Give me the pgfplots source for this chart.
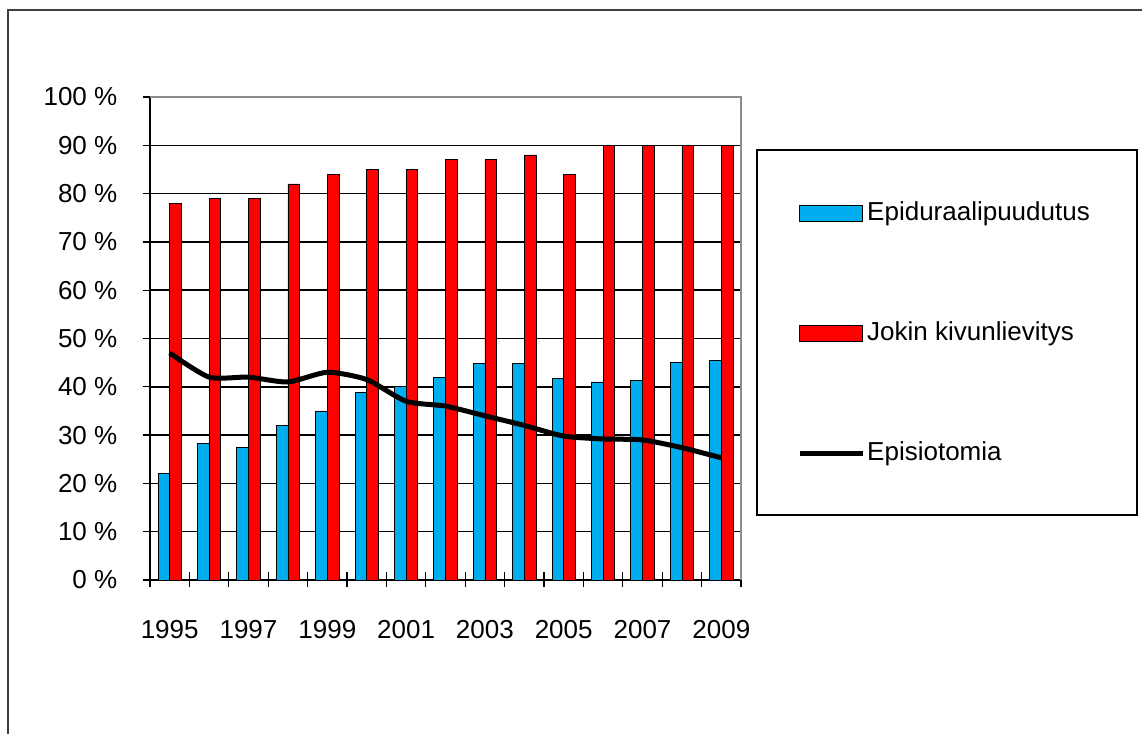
\documentclass[border=0pt]{standalone}
\usepackage{fontspec}
\setmainfont{Liberation Sans}
\usepackage{pgfplots}
\pgfplotsset{compat=1.18}
\definecolor{epiblue}{RGB}{0,174,239}
\definecolor{epired}{RGB}{255,0,0}
\newcommand{\chartfont}{\fontsize{26}{30}\selectfont}
\begin{document}
\begin{tikzpicture}[x=1pt,y=1pt]
% outer chart frame (only left and top edges are visible)
\draw[line width=2pt, black!75] (8,-5) -- (8,723) -- (1150,723);
\begin{axis}[
    at={(150pt,153pt)}, anchor=south west,
    scale only axis, width=591pt, height=483pt,
    xmin=-0.5, xmax=14.5, ymin=0, ymax=100,
    axis lines=left, axis line style={-, line width=1.5pt},
    tick pos=left, tick align=center,
    major tick length=15pt,
    every tick/.style={black, line width=1.3pt},
    xtick={-0.5,0.5,...,14.5}, xticklabels={},
    extra x ticks={0,2,...,14},
    extra x tick labels={1995,1997,1999,2001,2003,2005,2007,2009},
    extra x tick style={major tick length=0pt, grid=none,
        xticklabel style={inner sep=0pt, anchor=north, yshift=-40pt}},
    ytick={0,10,...,100},
    yticklabels={0 \%,10 \%,20 \%,30 \%,40 \%,50 \%,60 \%,70 \%,80 \%,90 \%,100 \%},
    yticklabel style={anchor=east, inner sep=0pt, xshift=-25pt},
    ymajorgrids, grid style={black, line width=1.5pt},
    tick label style={font=\chartfont},
    clip=false,
    legend style={at={(rel axis cs:1.0948,0.7909)}, anchor=north west,
        draw=none, fill=none, inner sep=0pt, row sep=90pt, font=\chartfont,
        nodes={text height=20pt, text depth=6pt, inner sep=2pt}},
    legend cell align=left,
]
\addplot[ybar, bar width=11.7pt, bar shift=-5.85pt, fill=epiblue, draw=black, line width=0.7pt,
    legend image code/.code={\draw[fill=epiblue, draw=black, line width=1pt] (0pt,-8pt) rectangle (63pt,8pt);}]
coordinates {
    (0,22)(1,28.2)(2,27.4)(3,32)(4,35)(5,38.8)(6,40)(7,41.9)
    (8,44.9)(9,44.9)(10,41.8)(11,41)(12,41.4)(13,45)(14,45.4)
};
\addlegendentry{Epiduraalipuudutus}

\addplot[ybar, bar width=11.7pt, bar shift=5.85pt, fill=epired, draw=black, line width=0.7pt,
    legend image code/.code={\draw[fill=epired, draw=black, line width=1pt] (0pt,-8pt) rectangle (63pt,8pt);}]
coordinates {
    (0,78)(1,79)(2,79)(3,82)(4,84)(5,85)(6,85)(7,87)
    (8,87)(9,88)(10,84)(11,90)(12,90)(13,90)(14,90)
};
\addlegendentry{Jokin kivunlievitys}

\addplot[black, line width=5pt, smooth, tension=0.4, mark=none,
    legend image code/.code={\draw[black, line width=5pt] (0pt,0pt) -- (63pt,0pt);}]
coordinates {
    (0,47)(1,42)(2,42)(3,41)(4,43)(5,41.5)(6,37)(7,36)
    (8,34)(9,32)(10,29.8)(11,29.2)(12,29)(13,27.4)(14,25.3)
};
\addlegendentry{Episiotomia}

% plot area top and right edge in grey
\draw[black!45, line width=2pt] (rel axis cs:0,1) -- (rel axis cs:1,1) -- (rel axis cs:1,0);
\end{axis}
% legend frame
\draw[black, line width=1.5pt] (757,218) rectangle (1137,583);
\pgfresetboundingbox
\path[use as bounding box] (0,0) rectangle (1142,733);
\end{tikzpicture}
\end{document}
